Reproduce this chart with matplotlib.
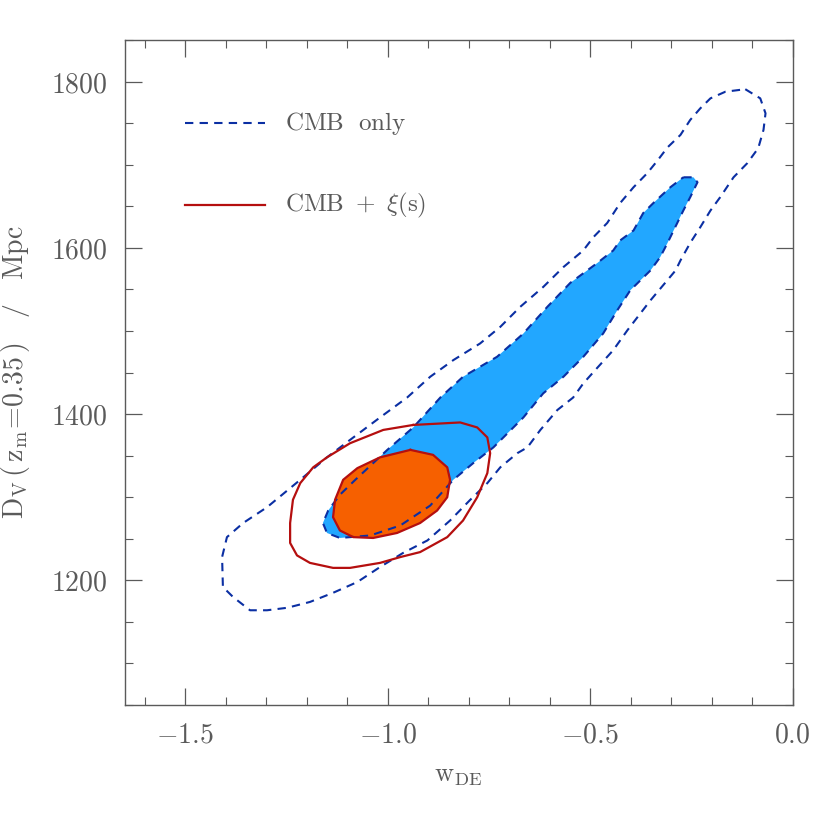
import numpy as np
import matplotlib.pyplot as plt
from matplotlib.ticker import MultipleLocator, FuncFormatter

plt.rcParams['mathtext.fontset'] = 'cm'
plt.rcParams['font.family'] = 'serif'
plt.rcParams['font.serif'] = ['DejaVu Serif']

# CMB only, outer (95%) contour: w_DE, D_V [Mpc]
cmb95_w = [-0.117, -0.080, -0.067, -0.072, -0.085, -0.112, -0.146, -0.179, -0.203, -0.228,
           -0.253, -0.277, -0.289, -0.351, -0.408, -0.443, -0.482, -0.517, -0.542, -0.581,
           -0.623, -0.655, -0.680, -0.722, -0.754, -0.796, -0.846, -0.902, -0.962, -1.019,
           -1.075, -1.135, -1.192, -1.248, -1.298, -1.340, -1.382, -1.407, -1.409, -1.397,
           -1.357, -1.298, -1.216, -1.150, -1.093, -1.019, -0.952, -0.895, -0.838, -0.772,
           -0.722, -0.673, -0.616, -0.566, -0.517, -0.492, -0.458, -0.426, -0.393, -0.359,
           -0.334, -0.309, -0.277, -0.253, -0.228, -0.203, -0.166]
cmb95_dv = [1791, 1780, 1762, 1742, 1720, 1702, 1685, 1661, 1645, 1625,
            1606, 1585, 1573, 1537, 1501, 1477, 1456, 1437, 1420, 1405,
            1381, 1360, 1353, 1336, 1317, 1297, 1272, 1248, 1233, 1216,
            1198, 1185, 1174, 1167, 1164, 1164, 1180, 1192, 1228, 1252,
            1269, 1288, 1321, 1348, 1369, 1396, 1420, 1445, 1465, 1485,
            1505, 1529, 1553, 1577, 1597, 1613, 1630, 1654, 1673, 1690,
            1705, 1721, 1736, 1754, 1768, 1780, 1788]

# CMB only, inner (68%) contour
cmb68_w = [-0.270, -0.245, -0.235, -0.253, -0.270, -0.285, -0.309, -0.327, -0.351, -0.401,
           -0.433, -0.468, -0.517, -0.566, -0.616, -0.665, -0.739, -0.789, -0.838, -0.895,
           -0.969, -1.043, -1.118, -1.150, -1.160, -1.147, -1.118, -1.080, -1.001, -0.937,
           -0.870, -0.814, -0.730, -0.665, -0.606, -0.549, -0.482, -0.443, -0.426, -0.393,
           -0.369, -0.344, -0.302]
cmb68_dv = [1685, 1685, 1679, 1661, 1645, 1630, 1606, 1589, 1573, 1549,
            1525, 1497, 1469, 1445, 1425, 1396, 1360, 1341, 1321, 1290,
            1266, 1254, 1251, 1257, 1269, 1284, 1303, 1321, 1357, 1384,
            1420, 1445, 1469, 1497, 1529, 1558, 1582, 1597, 1609, 1621,
            1642, 1654, 1673]

# CMB + xi(s), outer (95%) contour
xi95_w = [-0.937, -0.821, -0.779, -0.754, -0.747, -0.754, -0.779, -0.814, -0.853, -0.920,
          -0.969, -1.019, -1.093, -1.135, -1.192, -1.224, -1.241, -1.241, -1.234, -1.216,
          -1.184, -1.150, -1.093, -1.011]
xi95_dv = [1387, 1390, 1384, 1372, 1353, 1329, 1300, 1272, 1252, 1234,
           1228, 1221, 1215, 1215, 1221, 1230, 1245, 1269, 1297, 1317,
           1336, 1348, 1365, 1381]

# CMB + xi(s), inner (68%) contour
xi68_w = [-0.944, -0.888, -0.853, -0.846, -0.853, -0.878, -0.920, -0.977, -1.036, -1.085,
          -1.118, -1.135, -1.130, -1.110, -1.075, -1.019]
xi68_dv = [1357, 1351, 1336, 1321, 1300, 1284, 1269, 1257, 1251, 1252,
           1260, 1276, 1297, 1321, 1335, 1348]

legend_labels = [r'$\mathrm{CMB\ \ only}$', r'$\mathrm{CMB\ +\ \xi(s)}$']

dark_blue = '#0b2fa3'
light_blue = '#22a7ff'
red = '#b50f0f'
orange = '#f66000'
grey = '#5a5a5a'
dash = (0, (4, 3))


def closed(a):
    return np.append(a, a[0])


fig = plt.figure(figsize=(8.3, 8.3), dpi=100)
ax = fig.add_axes([0.150, 0.1506, 0.805, 0.801])

ax.plot(closed(cmb95_w), closed(cmb95_dv), color=dark_blue, lw=1.5, linestyle=dash)
ax.fill(cmb68_w, cmb68_dv, color=light_blue, lw=0)
ax.plot(closed(cmb68_w), closed(cmb68_dv), color=dark_blue, lw=1.5, linestyle=dash)
ax.plot(closed(xi95_w), closed(xi95_dv), color=red, lw=1.6)
ax.fill(xi68_w, xi68_dv, color=orange, lw=0)
ax.plot(closed(xi68_w), closed(xi68_dv), color=red, lw=1.6)

# legend drawn by hand like the original
ax.plot([0.0905, 0.210], [0.875, 0.875], color=dark_blue, lw=1.5, linestyle=dash,
        transform=ax.transAxes)
ax.plot([0.0905, 0.210], [0.752, 0.752], color=red, lw=1.6, transform=ax.transAxes)
ax.text(0.240, 0.875, legend_labels[0], transform=ax.transAxes, va='center',
        fontsize=18, color=grey)
ax.text(0.240, 0.752, legend_labels[1], transform=ax.transAxes, va='center',
        fontsize=18, color=grey)

ax.set_xlim(-1.65, 0.0)
ax.set_ylim(1050, 1850)
ax.xaxis.set_major_locator(MultipleLocator(0.5))
ax.xaxis.set_minor_locator(MultipleLocator(0.1))
ax.yaxis.set_major_locator(MultipleLocator(200))
ax.yaxis.set_minor_locator(MultipleLocator(50))
ax.xaxis.set_major_formatter(FuncFormatter(lambda v, p: r'$%.1f$' % v if abs(v) > 1e-9 else r'$0.0$'))
ax.yaxis.set_major_formatter(FuncFormatter(lambda v, p: r'$%d$' % v))
ax.tick_params(which='both', direction='in', top=True, right=True, colors=grey,
               labelsize=20, labelcolor=grey)
ax.tick_params(which='major', length=12, width=0.9, pad=12)
ax.tick_params(which='minor', length=6, width=0.8)
for s in ax.spines.values():
    s.set_color(grey)
    s.set_linewidth(1.0)

ax.set_xlabel(r'$\mathrm{w_{DE}}$', fontsize=19, color=grey, labelpad=10)
ax.set_ylabel(r'$\mathrm{D_V\,(\,z_m\!=\!0.35\,)\quad/\quad Mpc}$', fontsize=20,
              color=grey, labelpad=14)

fig.savefig('out.png', dpi=100)
